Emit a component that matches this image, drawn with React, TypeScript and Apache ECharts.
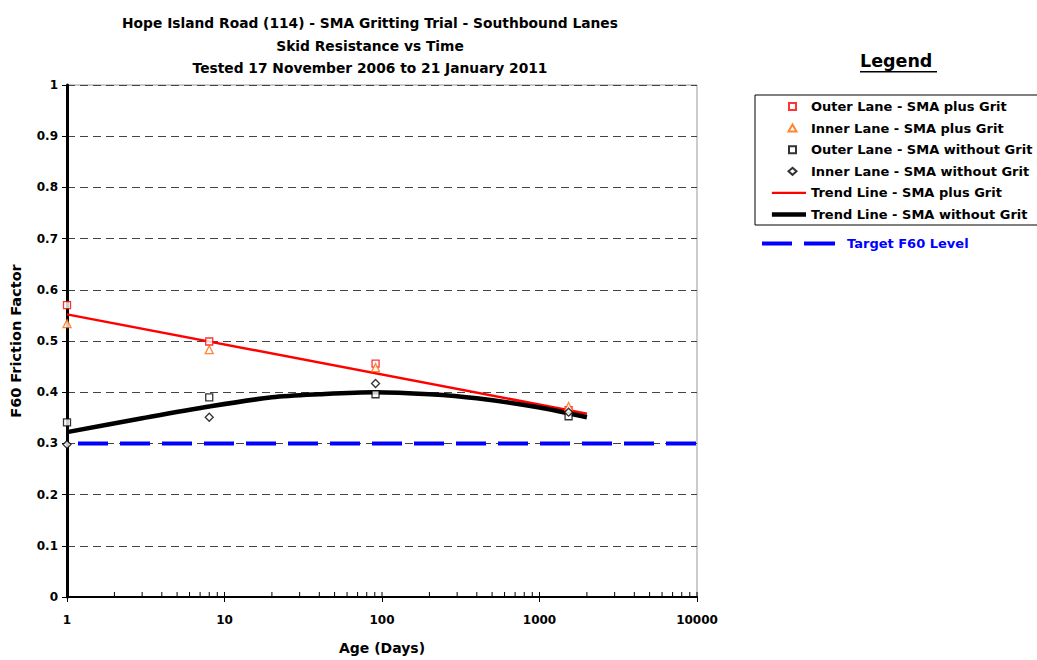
import React, { useEffect, useRef } from "react";
import * as echarts from "echarts";

const FONT = '"DejaVu Sans", Arial, sans-serif';

const titleLines = [
  "Hope Island Road (114) - SMA Gritting Trial - Southbound Lanes",
  "Skid Resistance vs Time",
  "Tested 17 November 2006 to 21 January 2011",
];

const ageDays = [1, 8, 91, 1530];
const outerPlusGrit = [0.57, 0.499, 0.456, 0.365];
const innerPlusGrit = [0.534, 0.483, 0.448, 0.372];
const outerNoGrit = [0.341, 0.39, 0.396, 0.353];
const innerNoGrit = [0.298, 0.351, 0.417, 0.361];

const trendPlusDays = [1, 2000];
const trendPlusVals = [0.552, 0.358];
const trendNoDays = [1, 3, 8, 20, 40, 90, 200, 400, 1000, 2000];
const trendNoVals = [0.322, 0.349, 0.372, 0.39, 0.396, 0.4, 0.396, 0.388, 0.37, 0.351];

const targetDays = [1, 10000];
const targetVals = [0.3, 0.3];

const innerTickDays = [
  1, 2, 3, 4, 5, 6, 7, 8, 9,
  10, 20, 30, 40, 50, 60, 70, 80, 90,
  100, 200, 300, 400, 500, 600, 700, 800, 900,
  1000, 2000, 3000, 4000, 5000, 6000, 7000, 8000, 9000, 10000,
];

const seriesNames = [
  "Outer Lane - SMA plus Grit",
  "Inner Lane - SMA plus Grit",
  "Outer Lane - SMA without Grit",
  "Inner Lane - SMA without Grit",
  "Trend Line - SMA plus Grit",
  "Trend Line - SMA without Grit",
];
const targetName = "Target F60 Level";

const legendIcons = [
  "path://M0,0M36,8M19,0.5L26,0.5L26,7.5L19,7.5Z",
  "path://M0,0M36,8M22.5,0.5L26.5,7.5L18.5,7.5Z",
  "path://M0,0M36,8M19,0.5L26,0.5L26,7.5L19,7.5Z",
  "path://M0,0M36,8M22.5,0.5L26.5,4L22.5,7.5L18.5,4Z",
  "path://M0,0M36,8M2,2.75L38,2.75L38,5.25L2,5.25Z",
  "path://M0,0M36,8M2,1.6L38,1.6L38,6.4L2,6.4Z",
];
const targetIcon = "path://M0,0M73,10M0,3L30,3L30,7L0,7ZM42,3L73,3L73,7L42,7Z";

const zip = (xs: number[], ys: number[]) => xs.map((x, i) => [x, ys[i]]);

export default function App() {
  const ref = useRef<HTMLDivElement>(null);
  useEffect(() => {
    if (!ref.current) return;
    const chart = echarts.init(ref.current, undefined, { renderer: "svg" });
    const scatterStyle = (c: string) => ({ color: "#fff", borderColor: c, borderWidth: 1.3 });
    chart.setOption({
      animation: false,
      backgroundColor: "#fff",
      textStyle: { fontFamily: FONT },
      title: {
        text: titleLines.join("\n"),
        left: 365,
        top: 7,
        textAlign: "center",
        textStyle: { fontFamily: FONT, fontSize: 13.8, fontWeight: "bold", lineHeight: 22.5, color: "#000" },
      },
      grid: {
        left: 67,
        right: 340,
        top: 85,
        bottom: 62,
        show: true,
        borderColor: "#999",
        borderWidth: 1,
      },
      xAxis: {
        type: "log",
        logBase: 10,
        min: 1,
        max: 10000,
        name: "Age (Days)",
        nameLocation: "middle",
        nameGap: 44,
        nameTextStyle: { fontFamily: FONT, fontSize: 14, fontWeight: "bold", color: "#000" },
        axisLine: { lineStyle: { color: "#000", width: 2 } },
        axisTick: { show: true, length: 5, lineStyle: { color: "#000", width: 1 } },
        axisLabel: {
          fontFamily: FONT,
          fontSize: 12,
          fontWeight: "bold",
          color: "#000",
          margin: 17,
          formatter: (v: number) => String(Math.round(v)),
        },
        splitLine: { show: false },
        minorTick: { show: false },
      },
      yAxis: {
        type: "value",
        min: 0,
        max: 1,
        interval: 0.1,
        name: "F60 Friction Factor",
        nameLocation: "middle",
        nameGap: 44,
        nameTextStyle: { fontFamily: FONT, fontSize: 14.5, fontWeight: "bold", color: "#000" },
        axisLine: { show: true, lineStyle: { color: "#000", width: 3 } },
        axisTick: { show: true, length: 5, lineStyle: { color: "#000", width: 1 } },
        axisLabel: {
          fontFamily: FONT,
          fontSize: 12,
          fontWeight: "bold",
          color: "#000",
          margin: 9,
          formatter: (v: number) => String(Math.round(v * 10) / 10),
        },
        splitLine: { show: true, lineStyle: { color: "#444", type: [8, 5], width: 1 } },
      },
      legend: [
        {
          left: 755,
          top: 95,
          orient: "vertical",
          data: seriesNames.map((n, i) => ({ name: n, icon: legendIcons[i] })),
          selectedMode: false,
          borderColor: "#000",
          borderWidth: 1,
          borderRadius: 0,
          padding: [5, 80, 4, 14],
          itemWidth: 36,
          itemHeight: 8,
          itemGap: 8.6,
          textStyle: { fontFamily: FONT, fontSize: 13, fontWeight: "bold", color: "#000" },
        },
        {
          left: 762,
          top: 237,
          orient: "vertical",
          data: [{ name: targetName, icon: targetIcon, textStyle: { color: "#0000ff" } }],
          selectedMode: false,
          padding: 0,
          itemWidth: 73,
          itemHeight: 10,
          textStyle: { fontFamily: FONT, fontSize: 13, fontWeight: "bold", color: "#0000ff", padding: [0, 0, 0, 7] },
        },
      ],
      graphic: [
        {
          type: "text",
          left: 860,
          top: 52,
          style: { text: "Legend", font: `bold 17.5px ${FONT}`, fill: "#000" },
        },
        {
          type: "rect",
          left: 860,
          top: 71,
          shape: { width: 77, height: 1.5 },
          style: { fill: "#000" },
        },
      ],
      series: [
        {
          name: seriesNames[0],
          type: "scatter",
          symbol: "rect",
          symbolSize: 7,
          itemStyle: scatterStyle("#ff0000"),
          data: zip(ageDays, outerPlusGrit),
          z: 4,
        },
        {
          name: seriesNames[1],
          type: "scatter",
          symbol: "triangle",
          symbolSize: 8,
          itemStyle: scatterStyle("#ff6600"),
          data: zip(ageDays, innerPlusGrit),
          z: 4,
        },
        {
          name: seriesNames[2],
          type: "scatter",
          symbol: "rect",
          symbolSize: 7,
          itemStyle: scatterStyle("#000000"),
          data: zip(ageDays, outerNoGrit),
          z: 4,
        },
        {
          name: seriesNames[3],
          type: "scatter",
          symbol: "diamond",
          symbolSize: 8,
          itemStyle: scatterStyle("#000000"),
          data: zip(ageDays, innerNoGrit),
          z: 4,
        },
        {
          name: seriesNames[4],
          type: "line",
          symbol: "none",
          lineStyle: { color: "#ff0000", width: 2.5 },
          itemStyle: { color: "#ff0000" },
          data: zip(trendPlusDays, trendPlusVals),
          z: 3,
        },
        {
          name: seriesNames[5],
          type: "line",
          symbol: "none",
          smooth: 0.3,
          lineStyle: { color: "#000000", width: 4.5 },
          itemStyle: { color: "#000000" },
          data: zip(trendNoDays, trendNoVals),
          z: 3,
        },
        {
          name: targetName,
          type: "line",
          symbol: "none",
          lineStyle: { color: "#0000ff", width: 4, type: [30, 12], dashOffset: -11 },
          itemStyle: { color: "#0000ff" },
          data: zip(targetDays, targetVals),
          z: 2,
        },
        {
          type: "custom",
          silent: true,
          clip: false,
          z: 6,
          data: innerTickDays.map((d) => [d, 0]),
          renderItem: (_p: any, api: any) => {
            const pt = api.coord([api.value(0), 0]);
            return {
              type: "line",
              shape: { x1: pt[0], y1: pt[1], x2: pt[0], y2: pt[1] - 5 },
              style: { stroke: "#000", lineWidth: 1 },
            };
          },
        },
      ],
    });
    return () => chart.dispose();
  }, []);
  return (
    <div
      ref={ref}
      style={{ position: "absolute", left: 0, top: 0, width: 1037, height: 660 }}
    />
  );
}
